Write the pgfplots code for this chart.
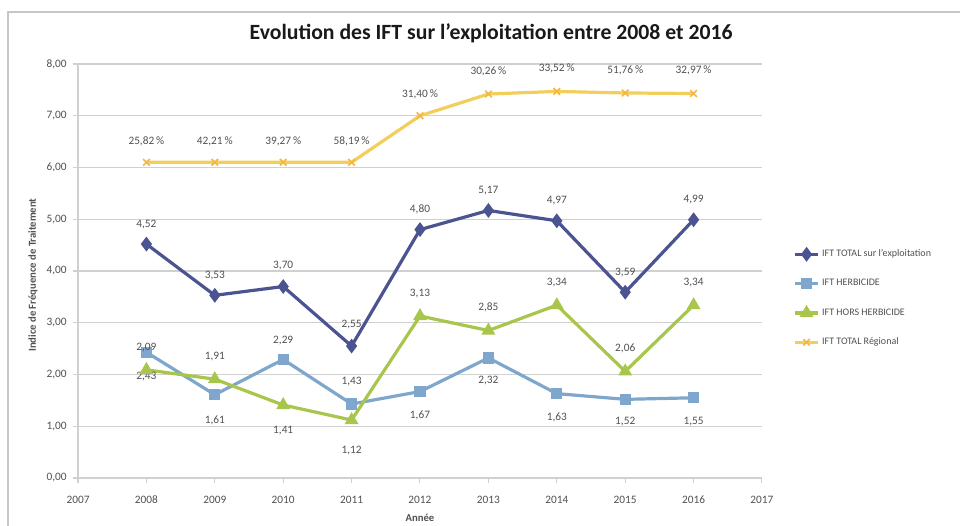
\documentclass[border=0pt]{standalone}
\usepackage{fontspec}
\setmainfont{Carlito}
\usepackage{pgfplots}
\pgfplotsset{compat=1.18}

\definecolor{cTotal}{HTML}{4B5390}
\definecolor{cHerb}{HTML}{7FA6CC}
\definecolor{cHors}{HTML}{A8C64B}
\definecolor{cReg}{HTML}{F2CF5B}
\definecolor{cGrid}{HTML}{D0D0D0}
\definecolor{cText}{HTML}{505050}

% x: year, y: IFT, dy: label shift (pt)
\pgfplotstableread{
x y dy
2008 4.52 15
2009 3.53 15
2010 3.70 16
2011 2.55 16
2012 4.80 15
2013 5.17 15
2014 4.97 15
2015 3.59 15
2016 4.99 15
}\total
\pgfplotstableread{
x y dy
2008 2.43 -18
2009 1.61 -19
2010 2.29 14
2011 1.43 17
2012 1.67 -18
2013 2.32 -17
2014 1.63 -18
2015 1.52 -17
2016 1.55 -18
}\herb
\pgfplotstableread{
x y dy
2008 2.09 17
2009 1.91 17
2010 1.41 -19
2011 1.12 -23
2012 3.13 17
2013 2.85 17
2014 3.34 17
2015 2.06 17
2016 3.34 17
}\hors
\pgfplotstableread{
x y p dy
2008 6.10 25.82 16
2009 6.10 42.21 16
2010 6.10 39.27 16
2011 6.10 58.19 16
2012 7.00 31.40 16
2013 7.42 30.26 17
2014 7.47 33.52 17
2015 7.44 51.76 17
2016 7.43 32.97 17
}\reg

\begin{document}
\begin{tikzpicture}
\useasboundingbox (0,0) rectangle (720pt,393.75pt);
\draw[gray!45, line width=0.8pt] (6pt,-2pt) -- (6pt,384.75pt) -- (725pt,384.75pt);
\begin{axis}[
    at={(58.5pt,35.25pt)}, anchor=south west,
    scale only axis, width=513pt, height=310.5pt,
    xmin=2007, xmax=2017, ymin=0, ymax=8,
    xtick={2007,...,2017}, ytick={0,1,...,8},
    axis x line*=bottom, axis y line*=left,
    axis line style={cGrid, line width=0.8pt},
    ymajorgrids, grid style={cGrid, line width=0.8pt},
    tick style={cGrid, line width=0.8pt}, major tick length=4pt,
    tick align=outside,
    /pgf/number format/assume math mode=true,
    x tick label style={/pgf/number format/1000 sep={}, yshift=-5pt},
    y tick label style={/pgf/number format/.cd, fixed, fixed zerofill, precision=2, use comma},
    ticklabel style={font=\fontsize{8.5}{10}\selectfont, text=cText},
    title={Evolution des IFT sur l'exploitation entre 2008 et 2016},
    title style={at={(0.604,1.056)}, anchor=center, font=\bfseries\fontsize{16.3}{20}\selectfont, text=black!90},
    ylabel={Indice de Fréquence de Traitement},
    ylabel style={at={(axis description cs:-0.066,0.49)}, anchor=center, font=\bfseries\fontsize{8}{10}\selectfont, text=cText},
    xlabel={Année},
    xlabel style={at={(axis description cs:0.5,-0.096)}, anchor=center, font=\bfseries\fontsize{8}{10}\selectfont, text=cText},
    legend style={at={(1.038,0.568)}, anchor=north west, draw=none, fill=none,
        font=\fontsize{7.5}{9}\selectfont, text=cText, row sep=11.5pt,
        legend cell align=left},
    every node near coord/.append style={font=\fontsize{8.5}{10}\selectfont, text=cText, anchor=center, yshift=\labdy pt},
    visualization depends on={\thisrow{dy} \as \labdy},
    line width=2.4pt,
]
\addplot[color=cTotal, mark=diamond*, mark size=3.6pt, mark options={solid},
    nodes near coords={\pgfmathprintnumber[fixed,fixed zerofill,precision=2,use comma]{\pgfplotspointmeta}}]
    table[x=x, y=y] {\total};
\addlegendentry{IFT TOTAL sur l'exploitation}
\addplot[color=cHerb, mark=square*, mark size=3pt, mark options={solid},
    nodes near coords={\pgfmathprintnumber[fixed,fixed zerofill,precision=2,use comma]{\pgfplotspointmeta}}]
    table[x=x, y=y] {\herb};
\addlegendentry{IFT HERBICIDE}
\addplot[color=cHors, mark=triangle*, mark size=3.6pt, mark options={solid},
    nodes near coords={\pgfmathprintnumber[fixed,fixed zerofill,precision=2,use comma]{\pgfplotspointmeta}}]
    table[x=x, y=y] {\hors};
\addlegendentry{IFT HORS HERBICIDE}
\addplot[color=cReg, mark=x, mark size=3.5pt, mark options={solid, line width=1.2pt, color=cReg!70!orange},
    point meta=explicit,
    nodes near coords={\pgfmathprintnumber[fixed,fixed zerofill,precision=2,use comma]{\pgfplotspointmeta}\,\%}]
    table[x=x, y=y, meta=p] {\reg};
\addlegendentry{IFT TOTAL Régional}
\end{axis}
\end{tikzpicture}
\end{document}
